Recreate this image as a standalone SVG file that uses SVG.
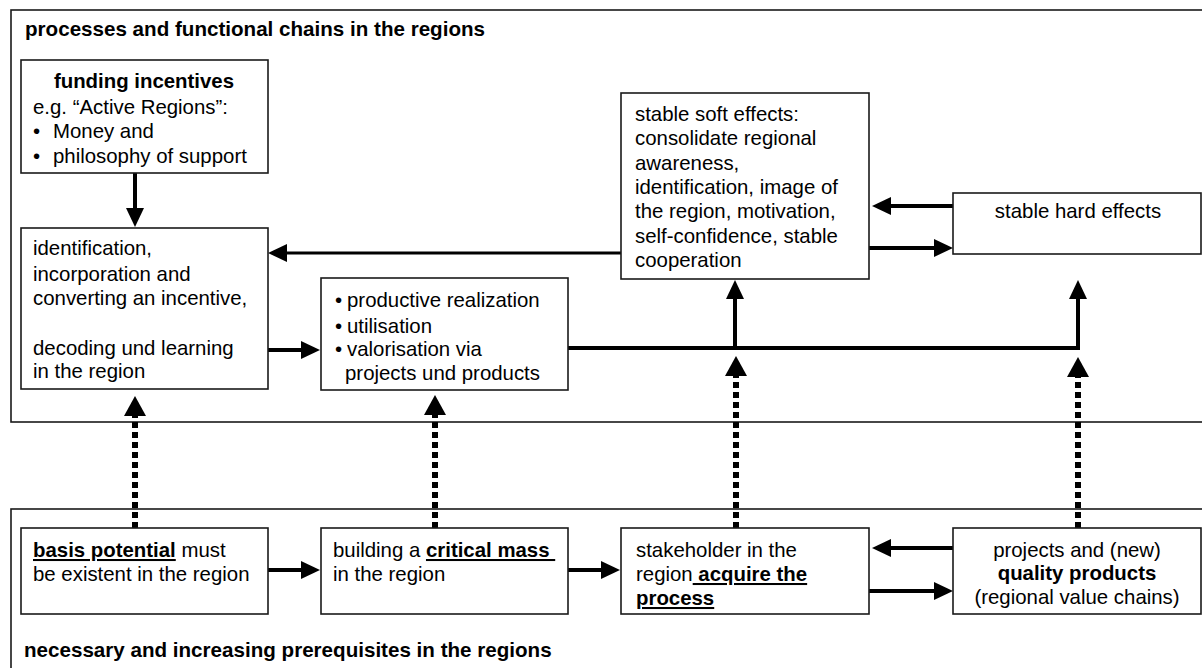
<svg xmlns="http://www.w3.org/2000/svg" width="1202" height="668" viewBox="0 0 1202 668">
<style>
text{font-family:"Liberation Sans",Arial,sans-serif;font-size:20.4px;fill:#000}
.b{font-weight:bold}
.u{text-decoration:underline}
.hd{font-weight:bold;font-size:20.6px}
.frame{fill:none;stroke:#1a1a1a;stroke-width:1.6}
.box{fill:#fff;stroke:#1a1a1a;stroke-width:1.6}
.c{fill:none;stroke:#000;stroke-width:4}
.thin{stroke-width:3}
.dot{fill:none;stroke:#000;stroke-width:6;stroke-dasharray:6 4}
</style>
<defs>
<marker id="ah" markerUnits="userSpaceOnUse" markerWidth="20" markerHeight="20" refX="1" refY="9" orient="auto" viewBox="0 0 20 20">
<path d="M0,0 L19,9 L0,18 z" fill="#000"/>
</marker>
<marker id="dh" markerUnits="userSpaceOnUse" markerWidth="22" markerHeight="24" refX="1" refY="11" orient="auto" viewBox="0 0 22 24">
<path d="M0,0 L20,11 L0,22 z" fill="#000"/>
</marker>
</defs>

<g id="frame-top">
<rect class="frame" x="11" y="10" width="1200" height="412"/>
<text class="hd" x="25" y="36">processes and functional chains in the regions</text>
</g>
<g id="frame-bottom">
<rect class="frame" x="11" y="509" width="1200" height="200"/>
<text class="hd" x="24" y="657">necessary and increasing prerequisites in the regions</text>
</g>

<g id="connectors">
<path class="c" d="M135,173 V209" marker-end="url(#ah)"/>
<path class="c thin" d="M621,253 H286" marker-end="url(#ah)"/>
<path class="c" d="M268,350 H302" marker-end="url(#ah)"/>
<path class="c" d="M568,348 H1080"/>
<path class="c" d="M735,350 V298" marker-end="url(#ah)"/>
<path class="c" d="M1078,350 V298" marker-end="url(#ah)"/>
<path class="c" d="M953,206 H890" marker-end="url(#ah)"/>
<path class="c" d="M869,248 H935" marker-end="url(#ah)"/>
<path class="c" d="M268,570 H302" marker-end="url(#ah)"/>
<path class="c" d="M568,570 H602" marker-end="url(#ah)"/>
<path class="c" d="M953,548 H890" marker-end="url(#ah)"/>
<path class="c" d="M869,591 H935" marker-end="url(#ah)"/>
<path class="dot" d="M135,528 V415" marker-end="url(#dh)"/>
<path class="dot" d="M435,528 V414" marker-end="url(#dh)"/>
<path class="dot" d="M736,528 V375" marker-end="url(#dh)"/>
<path class="dot" d="M1078,528 V376" marker-end="url(#dh)"/>
</g>

<g id="funding">
<rect class="box" x="21" y="60" width="247" height="113"/>
<text class="b" x="144" y="88" text-anchor="middle">funding incentives</text>
<text x="33" y="114">e.g. “Active Regions”:</text>
<text x="33" y="138">•</text><text x="53" y="138">Money and</text>
<text x="33" y="163">•</text><text x="53" y="163">philosophy of support</text>
</g>

<g id="identification">
<rect class="box" x="21" y="228" width="247" height="161"/>
<text x="33" y="255">identification,</text>
<text x="33" y="281">incorporation and</text>
<text x="33" y="305">converting an incentive,</text>
<text x="33" y="355">decoding und learning</text>
<text x="33" y="378">in the region</text>
</g>

<g id="productive">
<rect class="box" x="321" y="278" width="247" height="112"/>
<text x="335" y="307">•</text><text x="347" y="307">productive realization</text>
<text x="335" y="333">•</text><text x="347" y="333">utilisation</text>
<text x="335" y="356">•</text><text x="347" y="356">valorisation via</text>
<text x="345" y="380">projects und products</text>
</g>

<g id="soft-effects">
<rect class="box" x="621" y="93" width="248" height="186"/>
<text x="635" y="121">stable soft effects:</text>
<text x="635" y="145">consolidate regional</text>
<text x="635" y="170">awareness,</text>
<text x="635" y="194">identification, image of</text>
<text x="635" y="218">the region, motivation,</text>
<text x="635" y="243">self-confidence, stable</text>
<text x="635" y="267">cooperation</text>
</g>

<g id="hard-effects">
<rect class="box" x="953" y="193" width="248" height="61"/>
<text x="1078" y="218" text-anchor="middle">stable hard effects</text>
</g>

<g id="basis">
<rect class="box" x="21" y="528" width="247" height="86"/>
<text x="33" y="557"><tspan class="b u">basis potential</tspan> must</text>
<text x="33" y="581">be existent in the region</text>
</g>

<g id="critical">
<rect class="box" x="321" y="528" width="247" height="86"/>
<text x="333" y="557">building a <tspan class="b u">critical mass&#160;</tspan></text>
<text x="333" y="581">in the region</text>
</g>

<g id="stakeholder">
<rect class="box" x="621" y="528" width="248" height="86"/>
<text x="636" y="557">stakeholder in the</text>
<text x="636" y="581">region<tspan class="b u"> acquire the</tspan></text>
<text class="b u" x="636" y="605">process</text>
</g>

<g id="quality">
<rect class="box" x="953" y="528" width="248" height="86"/>
<text x="1077" y="557" text-anchor="middle">projects and (new)</text>
<text class="b" x="1077" y="580" text-anchor="middle">quality products</text>
<text x="1077" y="604" text-anchor="middle">(regional value chains)</text>
</g>
</svg>
